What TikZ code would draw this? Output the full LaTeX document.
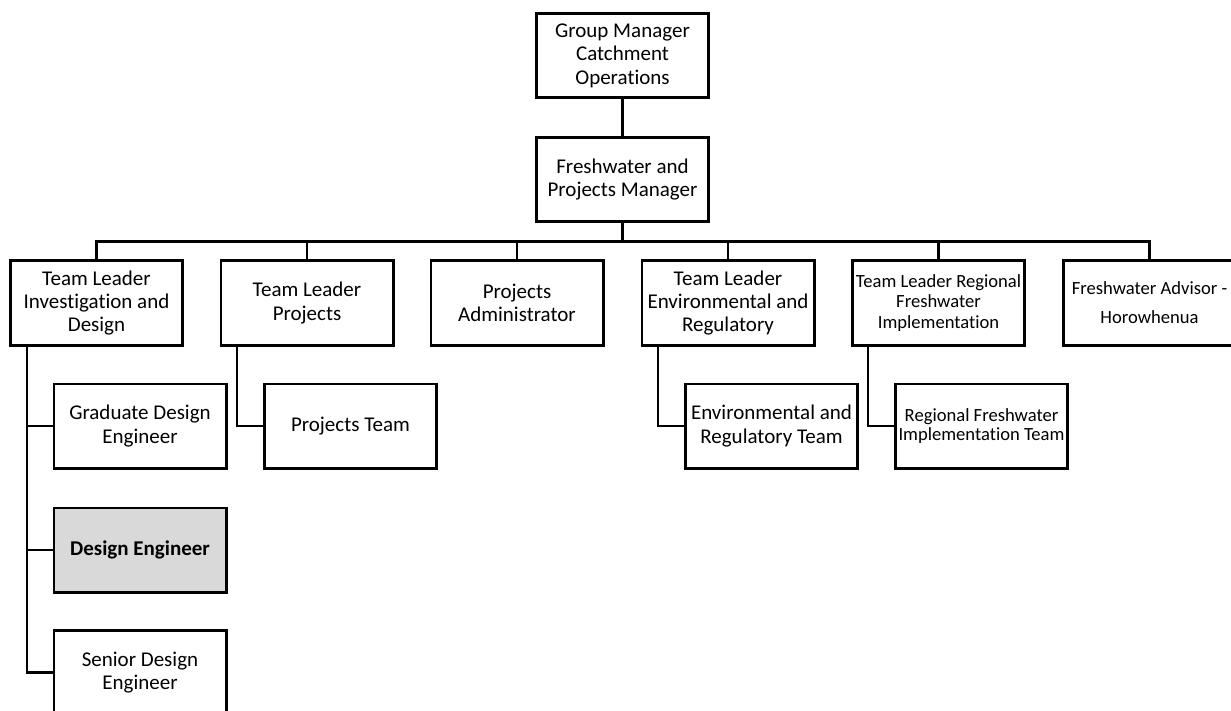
\documentclass[tikz,border=0pt]{standalone}
\usepackage{fontspec}
\setmainfont{Carlito}[Ligatures={NoCommon}, Contextuals={NoAlternate}]
\definecolor{boxgray}{HTML}{D9D9D9}
\tikzset{
  orgbox/.style={draw=black, line width=2.7pt, inner sep=0pt, align=center,
    minimum width=172.3pt, minimum height=84.3pt, fill=white,
    font=\fontsize{21}{23.4}\selectfont},
  smallfont/.style={font=\fontsize{18.6}{20.8}\selectfont},
  conn/.style={draw=black, line width=2.7pt, line cap=rect}
}
\begin{document}
\begin{tikzpicture}[x=1pt, y=-1pt]
\useasboundingbox[fill=white] (0,0) rectangle (1231,711);
\coordinate (bus) at (0,241.5);
\coordinate (lv) at (27,0);
\coordinate (pv) at (237,0);
\coordinate (ev) at (658,0);
\coordinate (rv) at (868,0);

\node[orgbox] (gm) at (622.5,55.5) {Group Manager\\Catchment\\Operations};
\node[orgbox] (fpm) at (622.5,179.5) {Freshwater and\\Projects Manager};

\node[orgbox] (tlid) at (96.5,303) {Team Leader\\Investigation and\\Design};
\node[orgbox] (tlp) at (307,303) {Team Leader\\Projects};
\node[orgbox] (pa) at (517,303) {Projects\\Administrator};
\node[orgbox] (tler) at (728,303) {Team Leader\\Environmental and\\Regulatory};
\node[orgbox, smallfont] (tlrf) at (938.5,303) {Team Leader Regional\\Freshwater\\Implementation};
\node[orgbox, font=\fontsize{18.6}{29}\selectfont] (fa) at (1149.5,303) {Freshwater Advisor -\\Horowhenua};

\node[orgbox] (gde) at (140,426) {Graduate Design\\Engineer};
\node[orgbox, fill=boxgray, font=\fontsize{21}{23.4}\selectfont\bfseries] (de) at (140,550) {Design Engineer};
\node[orgbox] (sde) at (140,672.5) {Senior Design\\Engineer};

\node[orgbox] (pt) at (350.5,426) {Projects Team};
\node[orgbox] (ert) at (771.5,426) {Environmental and\\Regulatory Team};
\node[orgbox, font=\fontsize{18.6}{19.3}\selectfont] (rfit) at (981.5,426) {Regional Freshwater\\Implementation Team};

\draw[conn] (gm.south) -- (fpm.north);
\draw[conn] (fpm.south) -- (fpm.south |- bus);
\draw[conn] (tlid.north) -- (tlid.north |- bus) -- (fa.north |- bus) -- (fa.north);
\foreach \n in {tlp,pa,tler,tlrf}{
  \draw[conn] (\n.north) -- (\n.north |- bus);
}
\draw[conn] (tlid.south -| lv) |- (sde.west);
\draw[conn] (lv |- gde.west) -- (gde.west);
\draw[conn] (lv |- de.west) -- (de.west);
\draw[conn] (tlp.south -| pv) |- (pt.west);
\draw[conn] (tler.south -| ev) |- (ert.west);
\draw[conn] (tlrf.south -| rv) |- (rfit.west);
\end{tikzpicture}
\end{document}
